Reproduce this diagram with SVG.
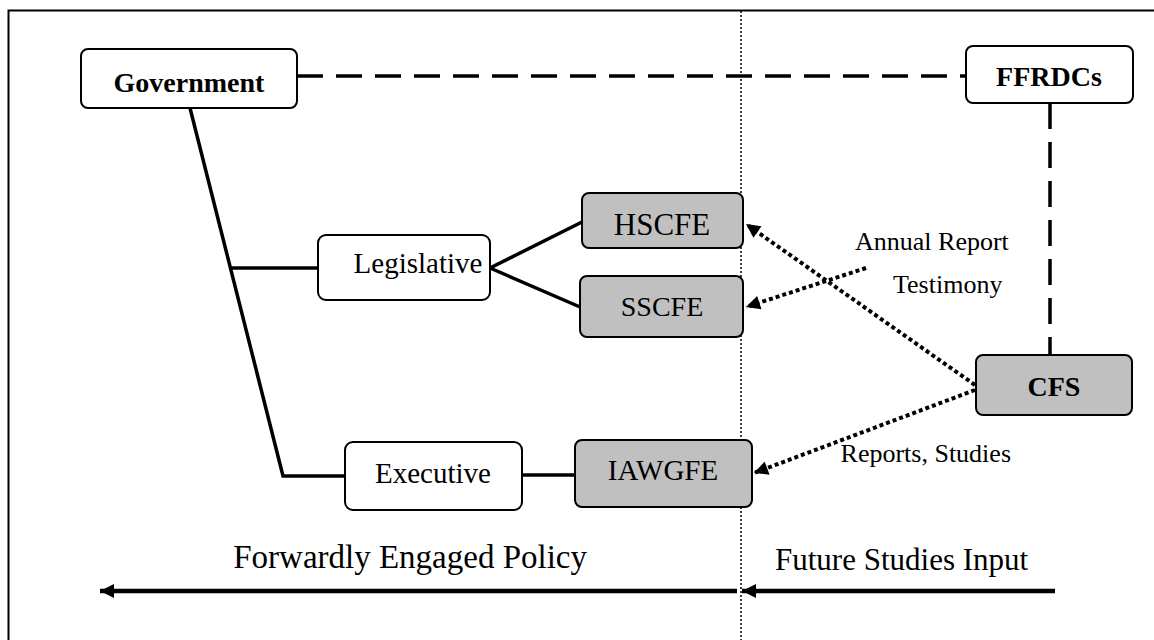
<svg xmlns="http://www.w3.org/2000/svg" width="1154" height="640" viewBox="0 0 1154 640">
<style>
.box{fill:#fff;stroke:#000;stroke-width:2}
.gbox{fill:#c0c0c0;stroke:#000;stroke-width:2}
.t{font-family:"Liberation Serif","Times New Roman",serif;font-size:29px;fill:#000;text-anchor:middle}
.b{font-weight:bold;font-size:28px}
.lbl{font-family:"Liberation Serif","Times New Roman",serif;font-size:26px;fill:#000}
.big{font-family:"Liberation Serif","Times New Roman",serif;font-size:31px;fill:#000}
.solid{stroke:#000;stroke-width:3.5;fill:none}
.dash{stroke:#000;stroke-width:3.5;fill:none;stroke-dasharray:26,13}
.dot{stroke:#000;stroke-width:4;fill:none;stroke-dasharray:4,3}
.thick{stroke:#000;stroke-width:4.5;fill:none}
</style>
<defs>
<marker id="ah" viewBox="0 0 10 10" refX="10" refY="5" markerWidth="16" markerHeight="14" markerUnits="userSpaceOnUse" orient="auto">
<path d="M0,0 L10,5 L0,10 z" fill="#000"/>
</marker>
<marker id="ahb" viewBox="0 0 10 10" refX="10" refY="5" markerWidth="16" markerHeight="14" markerUnits="userSpaceOnUse" orient="auto">
<path d="M0,0 L10,5 L0,10 z" fill="#000"/>
</marker>
</defs>
<rect x="8.5" y="10.5" width="1160" height="650" fill="#fff" stroke="#000" stroke-width="2"/>
<line x1="741" y1="11" x2="741" y2="640" stroke="#000" stroke-width="1.5" stroke-dasharray="2,2"/>
<g id="connectors">
<line class="dash" x1="297" y1="76" x2="966" y2="76"/>
<line class="dash" x1="1050" y1="103" x2="1050" y2="355"/>
<polyline class="solid" points="190,108 283,476 345,476"/>
<line class="solid" x1="229" y1="268" x2="318" y2="268"/>
<line class="solid" x1="490" y1="268" x2="582" y2="222"/>
<line class="solid" x1="490" y1="268" x2="580" y2="307"/>
<line class="solid" x1="522" y1="475" x2="575" y2="475"/>
<line class="dot" x1="975" y1="385" x2="746" y2="224" marker-end="url(#ah)"/>
<line class="dot" x1="866" y1="268" x2="746" y2="307" marker-end="url(#ah)"/>
<line class="dot" x1="975" y1="390" x2="754" y2="473" marker-end="url(#ah)"/>
<line class="thick" x1="1055" y1="591" x2="742" y2="591" marker-end="url(#ahb)"/>
<line class="thick" x1="737" y1="591" x2="100" y2="591" marker-end="url(#ahb)"/>
</g>
<g id="government"><rect class="box" x="81" y="49" width="216" height="59" rx="7"/><text class="t b" x="189" y="92">Government</text></g>
<g id="ffrdcs"><rect class="box" x="966" y="46" width="167" height="57" rx="7"/><text class="t b" x="1049" y="86">FFRDCs</text></g>
<g id="legislative"><rect class="box" x="318" y="235" width="172" height="65" rx="8"/><text class="t" x="418" y="273">Legislative</text></g>
<g id="executive"><rect class="box" x="345" y="442" width="177" height="68" rx="8"/><text class="t" x="433" y="483">Executive</text></g>
<g id="hscfe"><rect class="gbox" x="582" y="193" width="161" height="55" rx="7"/><text class="t" x="662" y="235" style="font-size:31px">HSCFE</text></g>
<g id="sscfe"><rect class="gbox" x="580" y="276" width="163" height="61" rx="7"/><text class="t" x="662" y="316" style="font-size:28px">SSCFE</text></g>
<g id="iawgfe"><rect class="gbox" x="575" y="440" width="177" height="67" rx="7"/><text class="t" x="663" y="480">IAWGFE</text></g>
<g id="cfs"><rect class="gbox" x="976" y="355" width="156" height="60" rx="7"/><text class="t b" x="1054" y="396">CFS</text></g>
<text class="lbl" x="855" y="250">Annual Report</text>
<text class="lbl" x="893" y="293">Testimony</text>
<text class="lbl" x="1011" y="462" text-anchor="end">Reports, Studies</text>
<text class="big" x="587" y="568" text-anchor="end" style="font-size:33px">Forwardly Engaged Policy</text>
<text class="big" x="775" y="570">Future Studies Input</text>
</svg>
